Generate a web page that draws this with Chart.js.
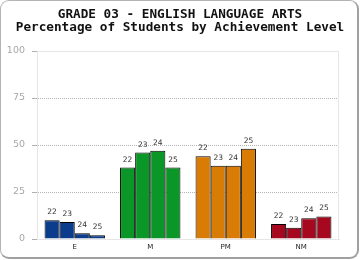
<!DOCTYPE html>
<html>
<head>
<meta charset="utf-8">
<script src="https://cdn.jsdelivr.net/npm/chart.js@4/dist/chart.umd.min.js"></script>
<style>
    html, body { margin: 0; padding: 0; background: #fff; }
    #wrap { position: relative; width: 360px; height: 260px; }
    #card {
        position: absolute; left: 0; top: 0; width: 359px; height: 259px;
        box-sizing: border-box; border: 1px solid #b4b4b4;
        border-right: 2px solid #a0a0a0; border-bottom: 2px solid #a0a0a0;
        border-radius: 9px; pointer-events: none;
    }
</style>
</head>
<body>
<div id="wrap">
    <canvas id="gradeChart"></canvas>
    <div id="card"></div>
</div>
<script>
// niveaux de réussite et années
const levels = ['E', 'M', 'PM', 'NM'];
const years = ['22', '23', '24', '25'];
const levelColors = ['#0b3d8c', '#0b9628', '#d97c06', '#a5081f'];

const pct22 = [10, 38, 44, 8];
const pct23 = [9, 46, 39, 6];
const pct24 = [3, 47, 39, 11];
const pct25 = [2, 38, 48, 12];

const yTicks = [0, 25, 50, 75, 100];

// cadre gris clair autour de la zone du graphe
const plotFrame = {
    id: 'plotFrame',
    beforeDatasetsDraw(chart) {
        const { ctx, chartArea: a } = chart;
        ctx.save();
        ctx.strokeStyle = '#e6e6e6';
        ctx.lineWidth = 1;
        ctx.beginPath();
        ctx.moveTo(a.left, a.top + 0.5);
        ctx.lineTo(a.right, a.top + 0.5);
        ctx.moveTo(a.right - 0.5, a.top);
        ctx.lineTo(a.right - 0.5, a.bottom);
        ctx.stroke();
        ctx.restore();
    }
};

// l'année au-dessus de chaque barre
const barLabels = {
    id: 'barLabels',
    afterDatasetsDraw(chart) {
        const ctx = chart.ctx;
        ctx.save();
        ctx.font = '7.5px "DejaVu Sans"';
        ctx.fillStyle = '#333';
        ctx.textAlign = 'center';
        ctx.textBaseline = 'alphabetic';
        chart.data.datasets.forEach((ds, i) => {
            chart.getDatasetMeta(i).data.forEach(bar => {
                ctx.fillText(ds.label, bar.x, bar.y - 6);
            });
        });
        ctx.restore();
    }
};

const series = [pct22, pct23, pct24, pct25];

new Chart(document.getElementById('gradeChart'), {
    type: 'bar',
    data: {
        labels: levels,
        datasets: series.map((values, i) => ({
            label: years[i],
            data: values,
            backgroundColor: levelColors,
            borderColor: '#000',
            borderWidth: 1,
            barPercentage: 1,
            categoryPercentage: 0.8
        }))
    },
    options: {
        responsive: true,
        maintainAspectRatio: false,
        animation: false,
        layout: { padding: 0 },
        plugins: {
            legend: { display: false },
            tooltip: { enabled: false },
            title: {
                display: true,
                text: ['GRADE 03 - ENGLISH LANGUAGE ARTS', 'Percentage of Students by Achievement Level'],
                color: '#111',
                font: { family: '"DejaVu Sans Mono"', size: 12.7, weight: 'bold', lineHeight: '13px' },
                padding: { top: 8, bottom: 17 }
            }
        },
        scales: {
            x: {
                grid: { display: false, drawTicks: false },
                border: { color: '#e6e6e6' },
                ticks: {
                    color: '#222',
                    font: { family: '"DejaVu Sans"', size: 7 },
                    padding: 4
                },
                afterFit: scale => { scale.height = 21; }
            },
            y: {
                min: 0,
                max: 100,
                afterBuildTicks: scale => { scale.ticks = yTicks.map(v => ({ value: v })); },
                grid: {
                    color: c => (c.tick && (c.tick.value === 0 || c.tick.value === 100)) ? 'rgba(0,0,0,0)' : '#b4b4b4',
                    tickColor: '#b0b0b0',
                    tickLength: 5
                },
                border: { color: '#e6e6e6', dash: [1, 1] },
                ticks: {
                    color: '#a8a8a8',
                    font: { family: '"DejaVu Sans"', size: 9.5 },
                    padding: 7
                },
                afterFit: scale => { scale.width = 37; }
            },
            // marge à droite, sans rien dessiner
            yRight: {
                position: 'right',
                grid: { display: false, drawTicks: false },
                border: { display: false },
                ticks: { display: false },
                afterFit: scale => { scale.width = 21; }
            }
        }
    },
    plugins: [plotFrame, barLabels]
});
</script>
</body>
</html>
